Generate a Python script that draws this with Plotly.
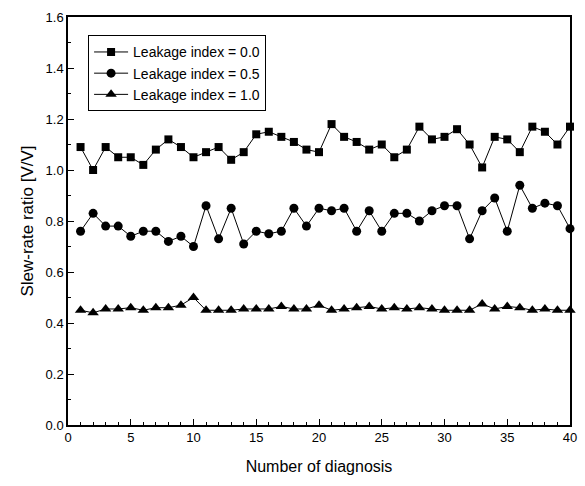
import plotly.graph_objects as go

x = list(range(1, 41))
sq = [1.09, 1.00, 1.09, 1.05, 1.05, 1.02, 1.08, 1.12, 1.09, 1.05,
      1.07, 1.09, 1.04, 1.07, 1.14, 1.15, 1.13, 1.11, 1.08, 1.07,
      1.18, 1.13, 1.11, 1.08, 1.10, 1.05, 1.08, 1.17, 1.12, 1.13,
      1.16, 1.10, 1.01, 1.13, 1.12, 1.07, 1.17, 1.15, 1.10, 1.17]
ci = [0.76, 0.83, 0.78, 0.78, 0.74, 0.76, 0.76, 0.72, 0.74, 0.70,
      0.86, 0.73, 0.85, 0.71, 0.76, 0.75, 0.76, 0.85, 0.78, 0.85,
      0.84, 0.85, 0.76, 0.84, 0.76, 0.83, 0.83, 0.80, 0.84, 0.86,
      0.86, 0.73, 0.84, 0.89, 0.76, 0.94, 0.85, 0.87, 0.86, 0.77]
tr = [0.45, 0.44, 0.455, 0.455, 0.46, 0.45, 0.46, 0.46, 0.47, 0.50,
      0.45, 0.45, 0.45, 0.455, 0.455, 0.455, 0.465, 0.455, 0.455, 0.47,
      0.45, 0.455, 0.46, 0.465, 0.455, 0.46, 0.455, 0.46, 0.455, 0.45,
      0.45, 0.45, 0.475, 0.455, 0.465, 0.46, 0.45, 0.455, 0.45, 0.45]
names = ["Leakage index = 0.0", "Leakage index = 0.5", "Leakage index = 1.0"]

fig = go.Figure()
for ys, sym, sz, nm in [(sq, "square", 8, names[0]), (ci, "circle", 9, names[1]), (tr, "triangle-up", 10, names[2])]:
    fig.add_trace(go.Scatter(x=x, y=ys, mode="lines+markers", name=nm,
                             line=dict(color="black", width=1),
                             marker=dict(symbol=sym, size=sz, color="black"),
                             cliponaxis=False))

font = "Liberation Sans, Arial, sans-serif"
fig.update_layout(
    width=585, height=486,
    margin=dict(l=68, r=8, t=17, b=61),
    paper_bgcolor="white", plot_bgcolor="white",
    font=dict(family=font, color="black", size=13),
    showlegend=True,
    legend=dict(x=0.04, y=0.955, xanchor="left", yanchor="top",
                bordercolor="black", borderwidth=1, bgcolor="white",
                font=dict(size=14), tracegroupgap=0, itemwidth=34),
    xaxis=dict(range=[0, 40], tickvals=[0, 5, 10, 15, 20, 25, 30, 35, 40],
               ticks="inside", ticklen=6, tickwidth=1, tickcolor="black",
               minor=dict(dtick=1, ticks="inside", ticklen=3, tickcolor="black"),
               showline=True, linecolor="black", linewidth=1.5, mirror=True,
               showgrid=False, zeroline=False,
               title=dict(text="Number of diagnosis", font=dict(size=16), standoff=16),
               tickfont=dict(size=13)),
    yaxis=dict(range=[0, 1.6], dtick=0.2, tickformat=".1f",
               ticks="inside", ticklen=6, tickwidth=1, tickcolor="black",
               minor=dict(dtick=0.1, ticks="inside", ticklen=3, tickcolor="black"),
               showline=True, linecolor="black", linewidth=1.5, mirror=True,
               showgrid=False, zeroline=False,
               title=dict(text="Slew-rate ratio [V/V]", font=dict(size=17), standoff=8),
               tickfont=dict(size=13)),
)
fig.write_html("out.html")
